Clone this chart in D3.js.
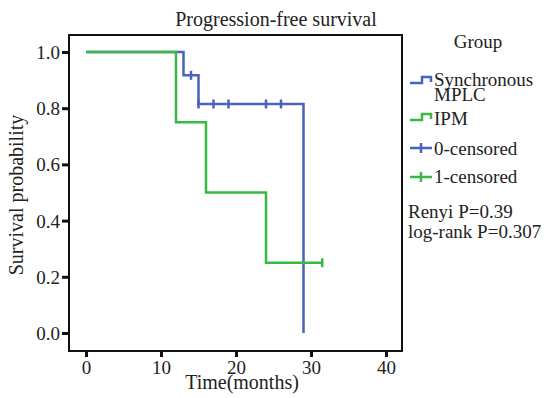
<!DOCTYPE html>
<html>
<head>
<meta charset="utf-8">
<script src="https://cdn.jsdelivr.net/npm/d3@7"></script>
<style>
  body { margin: 0; background: #fff; }
  text { font-family: "Liberation Serif", "Times New Roman", serif; fill: #222; }
</style>
</head>
<body>
<div id="app"></div>
<script>
// tick values
const monthTicks = [0, 10, 20, 30, 40];
const probTicks = [0, 0.2, 0.4, 0.6, 0.8, 1.0];

// Synchronous MPLC (group 0)
const syncTime = [0, 13, 15, 29];
const syncSurv = [1, 0.917, 0.815, 0];
const syncCensTime = [14, 15, 17, 19, 24, 26];
const syncCensSurv = [0.917, 0.815, 0.815, 0.815, 0.815, 0.815];

// IPM (group 1)
const ipmTime = [0, 12, 16, 24, 31.5];
const ipmSurv = [1, 0.75, 0.5, 0.25, 0.25];
const ipmCensTime = [31.5];
const ipmCensSurv = [0.25];

const blue = "#4763bd";
const green = "#37b944";

const width = 552, height = 398;
const svg = d3.select("#app").append("svg")
  .attr("width", width).attr("height", height);

const x = d3.scaleLinear().domain([0, 40]).range([86, 386]);
const y = d3.scaleLinear().domain([0, 1]).range([333, 52]);

// frame
svg.append("rect")
  .attr("x", 69).attr("y", 35).attr("width", 333).attr("height", 316)
  .attr("fill", "none").attr("stroke", "#111").attr("stroke-width", 2);

// axes
const yAxis = svg.append("g").attr("transform", "translate(69,0)")
  .call(d3.axisLeft(y).tickValues(probTicks).tickFormat(d3.format(".1f")).tickSize(7).tickPadding(2));
const xAxis = svg.append("g").attr("transform", "translate(0,351)")
  .call(d3.axisBottom(x).tickValues(monthTicks).tickSize(6).tickPadding(3));
[xAxis, yAxis].forEach(g => {
  g.select(".domain").remove();
  g.selectAll(".tick line").attr("stroke", "#111").attr("stroke-width", 3);
  g.selectAll(".tick text").attr("font-family", "Liberation Serif").attr("font-size", 19).attr("fill", "#222");
});
yAxis.selectAll(".tick text").attr("dy", "0.34em");
xAxis.selectAll(".tick text").attr("dy", "0.72em");

// labels
svg.append("text").attr("x", 276).attr("y", 26).attr("text-anchor", "middle")
  .attr("font-size", 20).text("Progression-free survival");
svg.append("text").attr("x", 242).attr("y", 389).attr("text-anchor", "middle")
  .attr("font-size", 20).text("Time(months)");
svg.append("text").attr("transform", "translate(23,195) rotate(-90)").attr("text-anchor", "middle")
  .attr("font-size", 20).text("Survival probability");

// curves
const step = d3.line().x(d => x(d[0])).y(d => y(d[1])).curve(d3.curveStepAfter);
function drawGroup(times, surv, cTimes, cSurv, color) {
  svg.append("path").datum(d3.zip(times, surv))
    .attr("d", step).attr("fill", "none").attr("stroke", color).attr("stroke-width", 2.5);
  svg.append("g").selectAll("line").data(d3.zip(cTimes, cSurv)).join("line")
    .attr("x1", d => x(d[0])).attr("x2", d => x(d[0]))
    .attr("y1", d => y(d[1]) - 4.5).attr("y2", d => y(d[1]) + 4.5)
    .attr("stroke", color).attr("stroke-width", 2.5);
}
drawGroup(syncTime, syncSurv, syncCensTime, syncCensSurv, blue);
drawGroup(ipmTime, ipmSurv, ipmCensTime, ipmCensSurv, green);

// legend
const lg = svg.append("g");
lg.append("text").attr("x", 478).attr("y", 48).attr("text-anchor", "middle").attr("font-size", 19).text("Group");
const stepSym = (yy, color) => lg.append("path")
  .attr("d", `M410,${yy} H422 V${yy - 6} H431 V${yy - 1}`)
  .attr("fill", "none").attr("stroke", color).attr("stroke-width", 2.5);
const crossSym = (yy, color) => {
  lg.append("path").attr("d", `M410,${yy} H432 M421,${yy - 5} V${yy + 5}`)
    .attr("fill", "none").attr("stroke", color).attr("stroke-width", 2.5);
};
stepSym(83, blue);
lg.append("text").attr("x", 434).attr("y", 86).attr("font-size", 19).text("Synchronous");
lg.append("text").attr("x", 434).attr("y", 101).attr("font-size", 19).text("MPLC");
stepSym(120, green);
lg.append("text").attr("x", 434).attr("y", 125).attr("font-size", 19).text("IPM");
crossSym(148, blue);
lg.append("text").attr("x", 434).attr("y", 155).attr("font-size", 19).text("0-censored");
crossSym(177, green);
lg.append("text").attr("x", 434).attr("y", 183).attr("font-size", 19).text("1-censored");
lg.append("text").attr("x", 408).attr("y", 218).attr("font-size", 19).text("Renyi P=0.39");
lg.append("text").attr("x", 408).attr("y", 238).attr("font-size", 19).text("log-rank P=0.307");
</script>
</body>
</html>
